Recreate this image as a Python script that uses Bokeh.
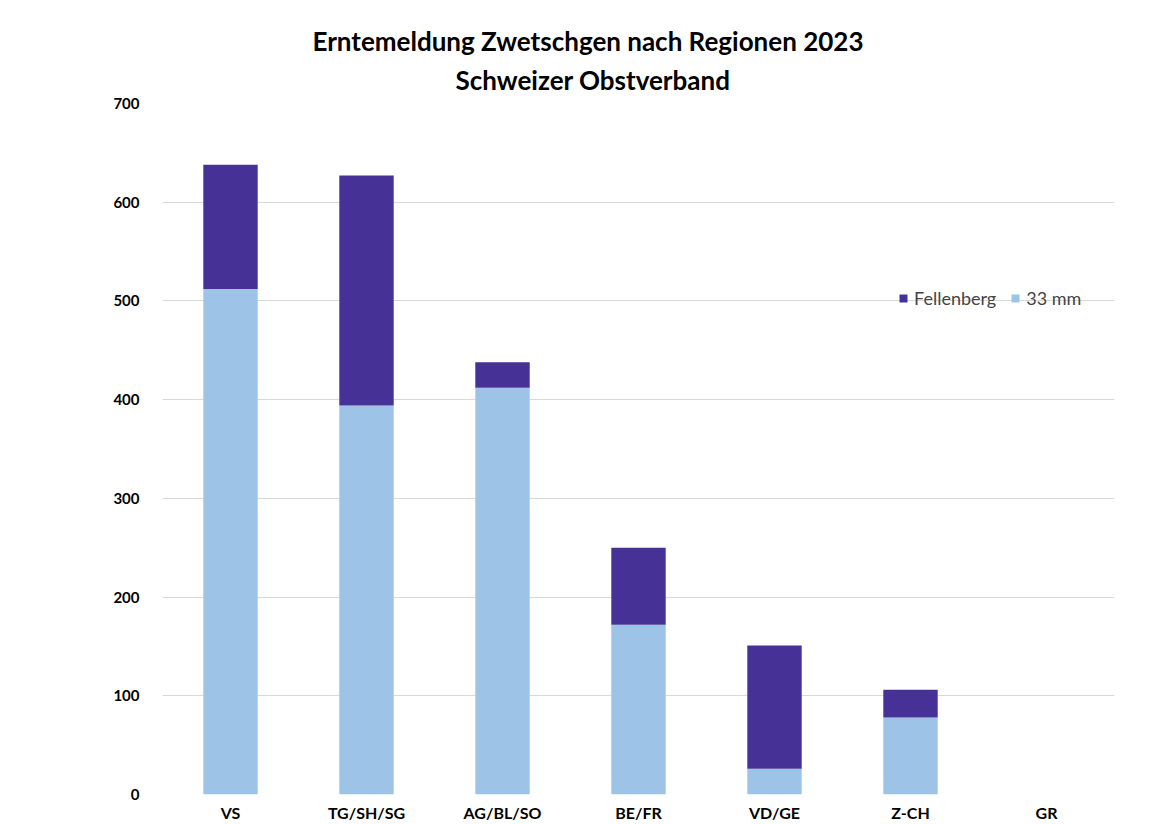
from bokeh.plotting import figure
from bokeh.models import ColumnDataSource, Legend, LegendItem, FactorRange, Title
from bokeh.embed import file_html
from bokeh.resources import INLINE

regions = ["VS", "TG/SH/SG", "AG/BL/SO", "BE/FR", "VD/GE", "Z-CH", "GR"]
mm33 = [512, 394, 412, 172, 26, 78, 0]
fellenberg = [126, 233, 26, 78, 125, 28, 0]
title_line1 = "Erntemeldung Zwetschgen nach Regionen 2023"
title_line2 = "Schweizer Obstverband"
y_ticks = [0, 100, 200, 300, 400, 500, 600, 700]

FONT = "Lato"
C_LIGHT = "#9DC3E6"
C_DARK = "#463296"

src = ColumnDataSource(dict(region=regions, mm33=mm33, fell=fellenberg))

p = figure(x_range=FactorRange(*regions), y_range=(0, 700), title=None,
           width=1152, height=824, output_backend="svg", toolbar_location=None,
           min_border_left=162, min_border_top=103, min_border_right=38, min_border_bottom=0)

r = p.vbar_stack(["mm33", "fell"], x="region", width=0.4, source=src,
                 color=[C_LIGHT, C_DARK], line_color=None)

def make_title(text, offset, standoff):
    return Title(text=text, align="left", offset=offset, standoff=standoff,
                 text_font=FONT, text_font_style="bold", text_font_size="26px",
                 text_color="#000000")

p.add_layout(make_title(title_line2, 293, 16), "above")
p.add_layout(make_title(title_line1, 150, -6), "above")

p.xgrid.grid_line_color = None
p.ygrid.grid_line_color = "#d9d9d9"
p.ygrid.grid_line_width = 1
p.yaxis.ticker = y_ticks
p.outline_line_color = None

for ax in (p.xaxis, p.yaxis):
    ax.axis_line_color = None
    ax.major_tick_line_color = None
    ax.minor_tick_line_color = None
    ax.major_label_text_font = FONT
    ax.major_label_text_font_style = "bold"
    ax.major_label_text_color = "#000000"
    ax.major_label_text_font_size = "15px"
p.xaxis.major_label_text_font_size = "16px"
p.yaxis.major_label_standoff = 17
p.xaxis.major_label_standoff = 2

legend = Legend(items=[LegendItem(label="Fellenberg", renderers=[r[1]]),
                       LegendItem(label="33 mm", renderers=[r[0]])],
                orientation="horizontal", location=(736, 485),
                background_fill_alpha=0, border_line_color=None,
                label_text_font=FONT, label_text_font_size="18px",
                glyph_width=10, glyph_height=10, spacing=14, padding=0, margin=0,
                label_standoff=6)
p.add_layout(legend, "center")

open("out.html", "w").write(file_html(p, INLINE))
